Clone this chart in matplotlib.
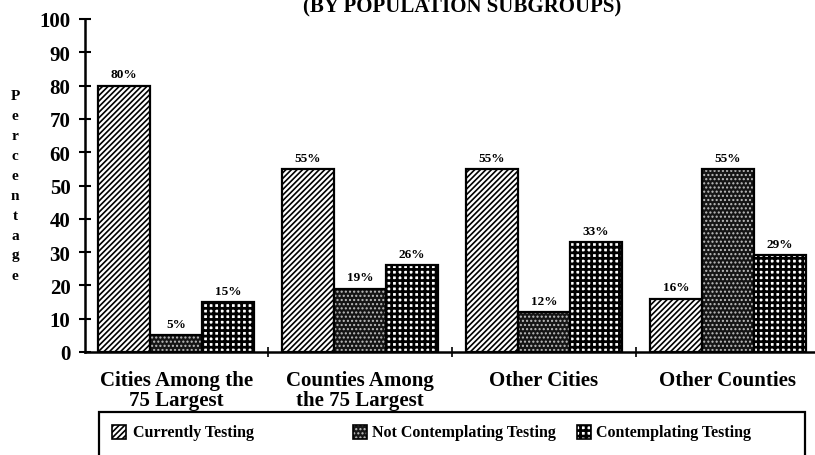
import matplotlib
matplotlib.use("Agg")
import matplotlib.pyplot as plt
from matplotlib.patches import Rectangle
import numpy as np

plt.rcParams['hatch.linewidth'] = 1.2

categories = ["Cities Among the\n75 Largest", "Counties Among\nthe 75 Largest", "Other Cities", "Other Counties"]
series_names = ["Currently Testing", "Not Contemplating Testing", "Contemplating Testing"]
currently = [80, 55, 55, 16]
not_contemplating = [5, 19, 12, 55]
contemplating = [15, 26, 33, 29]
labels_cur = ["80%", "55%", "55%", "16%"]
labels_not = ["5%", "19%", "12%", "55%"]
labels_con = ["15%", "26%", "33%", "29%"]

W, H = 815, 456
fig = plt.figure(figsize=(W/100, H/100), dpi=100)
ax = fig.add_axes([85/W, 1-353/H, (815-85)/W, 333/H])

x = np.arange(len(categories))
w = 0.283
serif = "Liberation Serif"

styles = [
    dict(facecolor="white", hatch="//////", hc=(0, 0, 0, 1), hlw=1.2),
    dict(facecolor="#151515", hatch="....", hc=(0.75, 0.75, 0.75, 1), hlw=1.0),
    dict(facecolor="white", hatch="+++", hc=(0, 0, 0, 1), hlw=2.0),
]

def style_patch(p, st):
    p.set_hatch(st["hatch"])
    p._hatch_color = st["hc"]
    try:
        p.set_hatch_linewidth(st["hlw"])
    except Exception:
        pass

vals = [currently, not_contemplating, contemplating]
labs = [labels_cur, labels_not, labels_con]
for i, (v, lab, st) in enumerate(zip(vals, labs, styles)):
    pos = x + (i - 1) * w
    bars = ax.bar(pos, v, w, facecolor=st["facecolor"], edgecolor="black", linewidth=1.6)
    for b in bars:
        style_patch(b, st)
    for p, val, t in zip(pos, v, lab):
        ax.text(p, val + 1.6, t, ha="center", va="bottom", fontsize=9.5, fontweight="bold", family=serif)

ax.set_xlim(-0.495, 3.473)
ax.set_ylim(0, 100)
ax.set_yticks(range(0, 101, 10))
ax.set_yticklabels([str(t) for t in range(0, 101, 10)], fontsize=15, fontweight="bold", family=serif)
ax.set_xticks([0.5, 1.5, 2.5])
ax.set_xticklabels([])
ax.tick_params(axis="y", direction="inout", length=9, width=1.5, pad=6)
ax.tick_params(axis="x", direction="inout", length=7, width=1.2)
for s in ["top", "right"]:
    ax.spines[s].set_visible(False)
ax.spines["left"].set_linewidth(1.8)
ax.spines["bottom"].set_linewidth(1.8)

for xi, c in zip(x, categories):
    ax.text(xi, -5.5, c, ha="center", va="top", fontsize=15, fontweight="bold", family=serif,
            linespacing=0.95)

fig.text(15/W, 1-186/H, "\n".join("Percentage"), ha="center", va="center", fontsize=11,
         fontweight="bold", family=serif, linespacing=1.7)

fig.text(462/W, 1-12/H, "(BY POPULATION SUBGROUPS)", ha="center", va="baseline", fontsize=15,
         fontweight="bold", family=serif)

# legend box (drawn manually to match the scanned layout)
fig.add_artist(Rectangle((99/W, -0.05), (805-99)/W, (456-413)/H + 0.05, transform=fig.transFigure,
                         fill=False, edgecolor="black", linewidth=1.6, clip_on=False))
hx = [112, 353, 577]
tx = [133, 372, 596]
for i, name in enumerate(series_names):
    st = styles[i]
    r = Rectangle((hx[i]/W, 1-440/H), 14/W, 14/H, transform=fig.transFigure,
                  facecolor=st["facecolor"], edgecolor="black", linewidth=1.2)
    style_patch(r, st)
    fig.add_artist(r)
    fig.text(tx[i]/W, 1-433/H, name, ha="left", va="center", fontsize=11.5, fontweight="bold",
             family=serif)

fig.savefig("out.png", dpi=100)
